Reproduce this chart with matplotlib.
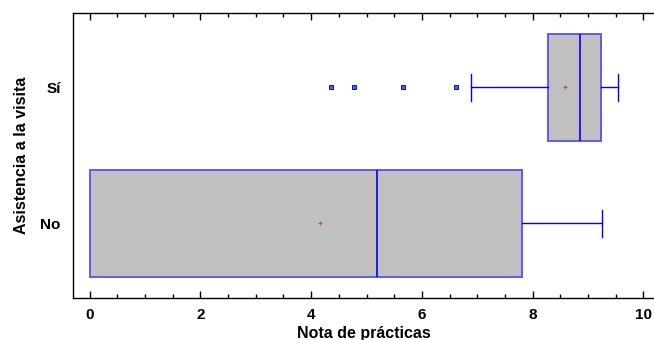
import matplotlib
matplotlib.use("Agg")
import matplotlib.pyplot as plt
from matplotlib.ticker import MultipleLocator

# box statistics
groups = ["No", "Sí"]
q1 = [0.0, 8.27]
medians = [5.19, 8.86]
q3 = [7.80, 9.24]
whisker_lo = [0.0, 6.88]
whisker_hi = [9.25, 9.54]
means = [4.16, 8.58]
outliers = [[], [4.35, 4.77, 5.65, 6.61]]

plt.rcParams['font.family'] = ['Liberation Sans', 'DejaVu Sans']
plt.rcParams['font.weight'] = 'bold'

fig = plt.figure(figsize=(6.54, 3.40), dpi=100)
ax = fig.add_axes([0.1116, 0.1235, 0.8884, 0.8395])

stats = []
for i in range(len(groups)):
    stats.append({
        'label': groups[i], 'q1': q1[i], 'med': medians[i], 'q3': q3[i],
        'whislo': whisker_lo[i], 'whishi': whisker_hi[i],
        'mean': means[i], 'fliers': outliers[i],
    })

blue = '#0000ff'
parts = ax.bxp(stats, positions=[0, 1], vert=False, widths=0.79, patch_artist=True,
               showmeans=True, showcaps=True,
               boxprops=dict(facecolor='#c0c0c0', edgecolor='#5a5aff', linewidth=1.4),
               medianprops=dict(color=blue, linewidth=1.2),
               whiskerprops=dict(color=blue, linewidth=1.0),
               capprops=dict(color=blue, linewidth=1.0),
               capwidths=0.2,
               meanprops=dict(marker='+', markeredgecolor='#b05a20', markersize=3,
                              markeredgewidth=0.8),
               flierprops=dict(marker='s', markersize=2.2, markerfacecolor='#4a7a9a',
                               markeredgecolor=blue, markeredgewidth=0.7))

# the lower whisker of "No" collapses onto the box edge: no cap drawn
parts['caps'][0].set_visible(False)

ax.set_xlim(-0.3, 10.19)
ax.set_ylim(-0.55, 1.55)
ax.set_yticks([0, 1])
ax.set_yticklabels(groups, fontsize=11, fontweight='bold')
ax.tick_params(axis='y', length=0, pad=9)

ax.xaxis.set_major_locator(MultipleLocator(2))
ax.xaxis.set_minor_locator(MultipleLocator(0.5))
ax.tick_params(axis='x', which='major', direction='in', length=5, width=1,
               top=True, bottom=True, labelsize=11, pad=7)
ax.tick_params(axis='x', which='minor', direction='in', length=3, width=1,
               top=True, bottom=True)
for lbl in ax.get_xticklabels():
    lbl.set_fontweight('bold')

ax.spines['right'].set_visible(False)
for s in ['left', 'top', 'bottom']:
    ax.spines[s].set_linewidth(1.0)

ax.set_xlabel('Nota de prácticas', fontsize=11.5, fontweight='bold', labelpad=3)
ax.set_ylabel('Asistencia a la visita', fontsize=11.5, fontweight='bold', labelpad=8)

fig.savefig('out.png', dpi=100)
